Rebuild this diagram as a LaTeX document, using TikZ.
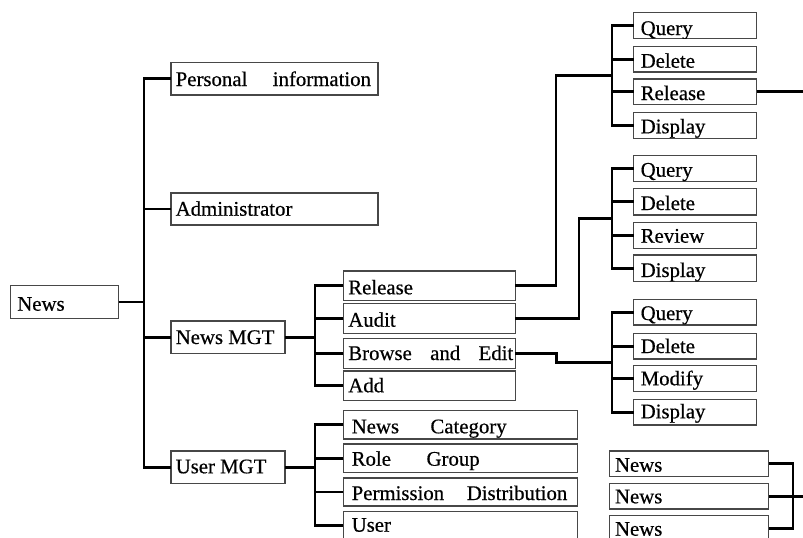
\documentclass[tikz,border=0pt]{standalone}
\usepackage{fontspec}
\setmainfont{Liberation Serif}[FakeBold=0.5]
\usetikzlibrary{calc}
\tikzset{
  box/.style={rectangle, draw=black!72, line width=1.5pt, inner sep=0pt, outer sep=0pt},
  txt/.style={inner sep=0pt, outer sep=0pt, font=\fontsize{20.8}{24}\selectfont},
  conn/.style={line width=2.8pt, black}
}
% name, x1, y1, x2, y2, dx, baseline above bottom, text
\newcommand\bx[8]{%
  \node[box, anchor=north west, minimum width={#4pt-#2pt}, minimum height={#5pt-#3pt}] (#1) at (#2,#3) {};
  \begin{scope}
    \clip (#1.south west) rectangle (#1.north east);
    \node[txt, anchor=base west] (#1t) at ([shift={(#6pt,#7pt)}]#1.south west) {#8};
  \end{scope}
}
\newcommand\jtext[2]{\hbox to #1pt{#2}}
\begin{document}
\begin{tikzpicture}[x=1pt,y=-1pt]
\fill[white] (0,0) rectangle (803,538);
\useasboundingbox (0,0) rectangle (803,538);

% level 0/1
\bx{root}{10.7}{285.7}{118.7}{318.3}{6.6}{7.6}{News}
\bx{pi}{171}{62.7}{378}{95}{4.7}{9}{\jtext{195.3}{Personal\hfill information}}
\bx{ad}{171}{193}{378}{225}{4.7}{9.3}{Administrator}
\bx{nm}{171}{321}{285}{353.3}{4.7}{9.3}{News MGT}
\bx{um}{171}{451}{285}{483.3}{4.7}{10}{User MGT}

% level 2
\bx{rel}{343.3}{271}{515.3}{300.7}{5}{6.4}{Release}
\bx{aud}{343.3}{303.3}{515.3}{333.3}{5}{6.6}{Audit}
\bx{be}{343.3}{338.7}{515.3}{368.3}{5}{8.3}{\jtext{165}{Browse\hfill and\hfill Edit}}
\bx{add}{343.3}{371}{515.3}{400.7}{5}{8.4}{Add}
\bx{nc}{343.3}{410.7}{577.3}{439}{8.4}{5.7}{\jtext{155}{News\hfill Category}}
\bx{rg}{343.3}{444}{577.3}{472.3}{8.4}{6.6}{\jtext{128}{Role\hfill Group}}
\bx{pd}{343.3}{478}{577.3}{506}{8.4}{6}{\jtext{215.6}{Permission\hfill Distribution}}
\bx{us}{343.3}{511.7}{577.3}{540}{8.4}{8.3}{User}

% level 3
\bx{qa}{633.7}{12.3}{756.7}{38.7}{7}{3.7}{Query}
\bx{da}{633.7}{46.7}{756.7}{72}{7}{4.3}{Delete}
\bx{ra}{633.7}{79}{756.7}{104.3}{7}{4.3}{Release}
\bx{sa}{633.7}{112.3}{756.7}{138.3}{7}{5}{Display}
\bx{qb}{633.7}{155.7}{756.7}{181.7}{7}{5}{Query}
\bx{db}{633.7}{188.3}{756.7}{215}{7}{5}{Delete}
\bx{rv}{633.7}{222.3}{756.7}{248.3}{7}{5.6}{Review}
\bx{sb}{633.7}{255}{756.7}{281.7}{7}{4.7}{Display}
\bx{qc}{633.7}{299.3}{756.7}{325}{7}{5}{Query}
\bx{dc}{633.7}{333.3}{756.7}{359}{7}{6}{Delete}
\bx{mo}{633.7}{365.7}{756.7}{391.3}{7}{6}{Modify}
\bx{sc}{633.7}{399.3}{756.7}{425}{7}{6.7}{Display}

% bottom right news
\bx{na}{609.3}{451}{768.7}{476.7}{5.7}{5}{News}
\bx{nb}{609.3}{483.3}{768.7}{509}{5.7}{5.7}{News}
\bx{nc2}{609.3}{515.7}{768.7}{541.4}{5.7}{5.7}{News}

% junction x positions
\coordinate (j0) at (144,0);
\coordinate (j1) at (315,0);
\coordinate (j2) at (612,0);
\coordinate (j3) at (793,0);
\coordinate (k1) at (556,0);
\coordinate (k2) at (579,0);
\coordinate (k3) at (556.7,0);
\coordinate (e1) at (806,0);
\coordinate (m1) at ($(qa.west -| j2)!0.5!(sa.west -| j2)$);
\coordinate (m2) at ($(qb.west -| j2)!0.5!(sb.west -| j2)$);
\coordinate (m3) at ($(qc.west -| j2)!0.5!(sc.west -| j2)$);

% main trunk
\draw[conn] (root.east) -- (root.east -| j0);
\draw[conn] (pi.west) -| (um.west -| j0) -- (um.west);
\draw[conn] (ad.west) -- (ad.west -| j0);
\draw[conn] (nm.west) -- (nm.west -| j0);

% news mgt
\draw[conn] (nm.east) -- (nm.east -| j1);
\draw[conn] (rel.west) -| (add.west -| j1) -- (add.west);
\draw[conn] (aud.west) -- (aud.west -| j1);
\draw[conn] (be.west) -- (be.west -| j1);

% user mgt
\draw[conn] (um.east) -- (um.east -| j1);
\draw[conn] (nc.west) -| (us.west -| j1) -- (us.west);
\draw[conn] (rg.west) -- (rg.west -| j1);
\draw[conn] (pd.west) -- (pd.west -| j1);

% level 3 trunks
\draw[conn] (qa.west) -| (sa.west -| j2) -- (sa.west);
\draw[conn] (da.west) -- (da.west -| j2);
\draw[conn] (ra.west) -- (ra.west -| j2);
\draw[conn] (qb.west) -| (sb.west -| j2) -- (sb.west);
\draw[conn] (db.west) -- (db.west -| j2);
\draw[conn] (rv.west) -- (rv.west -| j2);
\draw[conn] (qc.west) -| (sc.west -| j2) -- (sc.west);
\draw[conn] (dc.west) -- (dc.west -| j2);
\draw[conn] (mo.west) -- (mo.west -| j2);

% links level 2 -> level 3
\draw[conn] (rel.east) -| (k1 |- m1) -- (m1);
\draw[conn] (aud.east) -| (k2 |- m2) -- (m2);
\draw[conn] (be.east) -- (be.east -| k3) -- (k3 |- m3) -- (m3);

% right side
\draw[conn] (ra.east) -- (ra.east -| e1);
\draw[conn] (na.east) -| (nc2.east -| j3) -- (nc2.east);
\draw[conn] (nb.east) -- (nb.east -| e1);
\end{tikzpicture}
\end{document}
